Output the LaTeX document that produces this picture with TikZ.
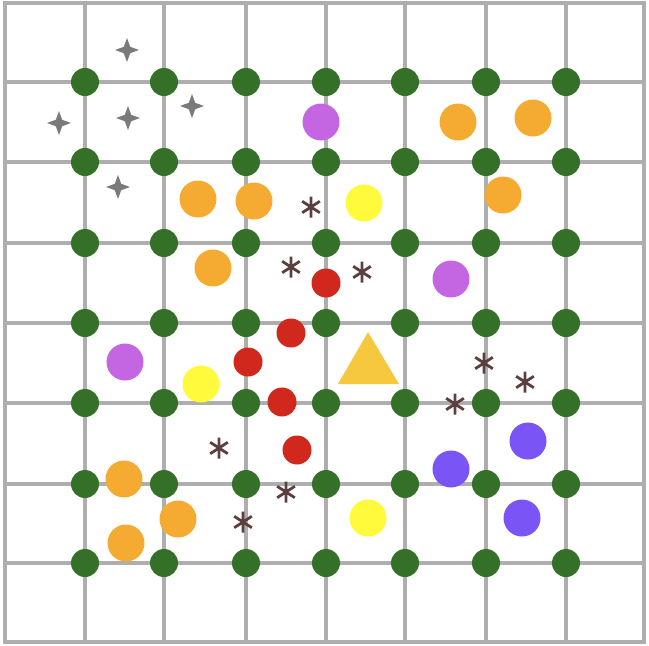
\documentclass[tikz,border=0pt]{standalone}
\definecolor{gridc}{RGB}{174,174,174}
\definecolor{gdotc}{RGB}{52,112,40}
\definecolor{orangec}{RGB}{245,170,50}
\definecolor{purplec}{RGB}{196,102,226}
\definecolor{violetc}{RGB}{122,84,245}
\definecolor{yellowc}{RGB}{255,250,60}
\definecolor{redc}{RGB}{208,40,28}
\definecolor{goldc}{RGB}{245,200,62}
\definecolor{starc}{RGB}{122,122,122}
\definecolor{astc}{RGB}{92,64,64}
\begin{document}
\begin{tikzpicture}[x=1pt,y=-1pt,
  gridline/.style={draw=gridc,line width=3.6},
  gdot/.style={circle,fill=gdotc,minimum size=28,inner sep=0,draw=none},
  bigdot/.style={circle,minimum size=37,inner sep=0,draw=none},
  odot/.style={bigdot,fill=orangec},
  pdot/.style={bigdot,fill=purplec},
  vdot/.style={bigdot,fill=violetc},
  ydot/.style={bigdot,fill=yellowc},
  rdot/.style={circle,fill=redc,minimum size=29,inner sep=0,draw=none},
  sparkle/.pic={\fill[starc] (0,-12) -- (3.2,-3.2) -- (12,0) -- (3.2,3.2) -- (0,12) -- (-3.2,3.2) -- (-12,0) -- (-3.2,-3.2) -- cycle;},
  astk/.pic={\draw[astc,line width=2.8] (90:10.5) -- (270:10.5) (33:10.5) -- (213:10.5) (147:10.5) -- (327:10.5);}
]
\useasboundingbox (0,0) rectangle (649,646);
\fill[white] (0,0) rectangle (649,646);
% grid
\foreach \x in {5,85,164,246,326,405,486,566,644} \draw[gridline] (\x,2) -- (\x,644);
\foreach \y in {3,82,162,243,323,403,484,563,642} \draw[gridline] (3,\y) -- (646,\y);
% green dots
\foreach \x [count=\i] in {85,164,246,326,405,486,566}
  \foreach \y [count=\j] in {82,162,243,323,403,484,563}
    \node[gdot] (g\i-\j) at (\x,\y) {};
% sparkles
\pic at (127,50) {sparkle};
\pic at (192,106) {sparkle};
\pic at (59,123) {sparkle};
\pic at (128,118) {sparkle};
\pic at (118,187) {sparkle};
% orange
\node[odot] (o1) at (458,122) {};
\node[odot] (o2) at (533,118) {};
\node[odot] (o3) at (503,195) {};
\node[odot] (o4) at (198,199) {};
\node[odot] (o5) at (254,201) {};
\node[odot] (o6) at (213,268) {};
\node[odot] (o7) at (124,479) {};
\node[odot] (o8) at (178,519) {};
\node[odot] (o9) at (126,543) {};
% purple
\node[pdot] (p1) at (321,122) {};
\node[pdot] (p2) at (451,279) {};
\node[pdot] (p3) at (125,362) {};
% violet
\node[vdot] (v1) at (528,441) {};
\node[vdot] (v2) at (451,469) {};
\node[vdot] (v3) at (522,518) {};
% yellow
\node[ydot] (y1) at (364,203) {};
\node[ydot] (y2) at (201,384) {};
\node[ydot] (y3) at (368,518) {};
% red
\node[rdot] (r1) at (326,283) {};
\node[rdot] (r2) at (291,333) {};
\node[rdot] (r3) at (248,362) {};
\node[rdot] (r4) at (282,402) {};
\node[rdot] (r5) at (297,450) {};
% triangle
\fill[goldc] (368,332) -- (399,384) -- (338,384) -- cycle;
% asterisks
\pic at (311,207) {astk};
\pic at (291,267) {astk};
\pic at (362,272) {astk};
\pic at (484,363) {astk};
\pic at (525,382) {astk};
\pic at (455,404) {astk};
\pic at (219,448) {astk};
\pic at (286,492) {astk};
\pic at (243,522) {astk};
\end{tikzpicture}
\end{document}
